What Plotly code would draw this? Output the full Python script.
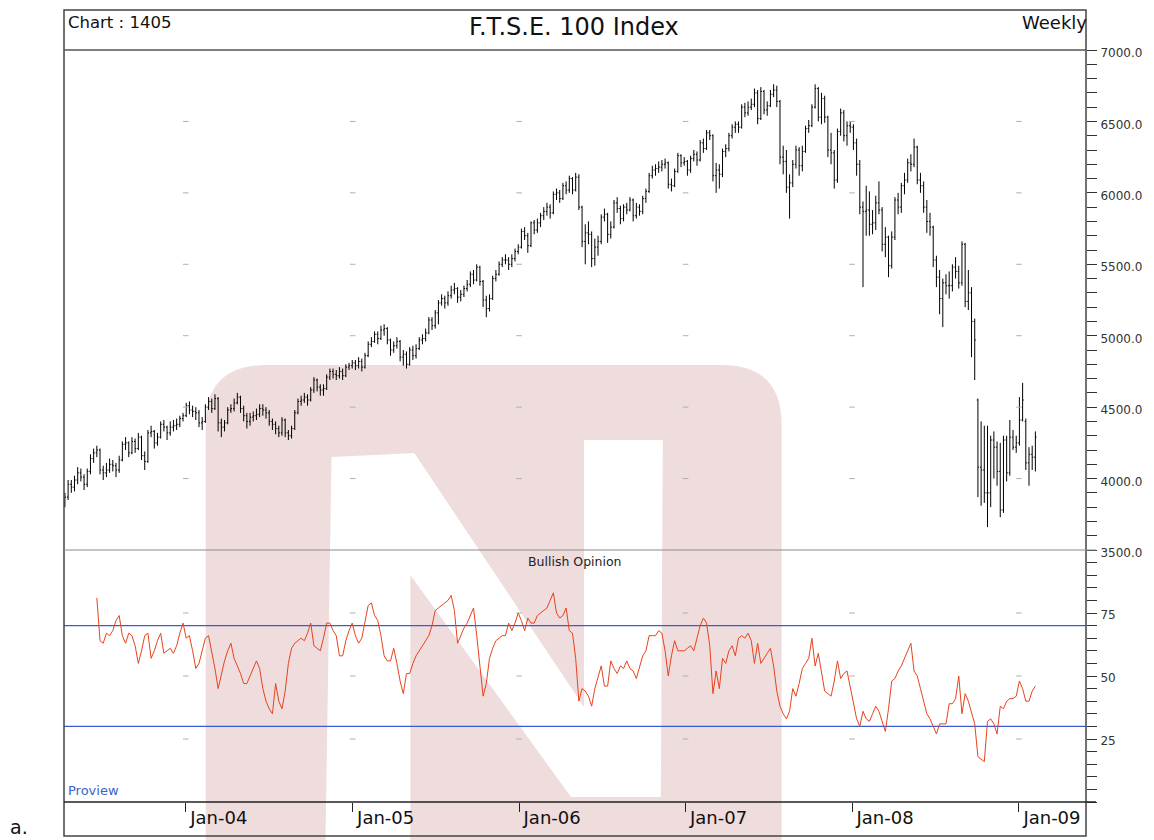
import pandas as pd
import plotly.graph_objects as go

# ---------------- data ----------------
first_week = "2003-04-11"
n_weeks = 305
dates = pd.date_range(first_week, periods=n_weeks, freq="7D")

price_open = [
    3830, 3870, 3960, 3940, 3990, 4040, 4010, 3960, 4050, 4140,
    4180, 4200, 4060, 4040, 4060, 4100, 4090, 4060, 4130, 4240,
    4250, 4180, 4260, 4210, 4290, 4160, 4120, 4320, 4330, 4250,
    4290, 4380, 4360, 4320, 4360, 4370, 4380, 4420, 4440, 4510,
    4480, 4470, 4460, 4390, 4400, 4500, 4540, 4490, 4560, 4390,
    4360, 4390, 4480, 4490, 4530, 4570, 4490, 4440, 4400, 4430,
    4440, 4450, 4490, 4480, 4460, 4400, 4380, 4350, 4320, 4410,
    4320, 4300, 4350, 4460, 4540, 4550, 4570, 4550, 4620, 4690,
    4640, 4620, 4630, 4710, 4750, 4730, 4720, 4750, 4720, 4780,
    4790, 4810, 4790, 4820, 4780, 4860, 4940, 4960, 5010, 4980,
    5040, 5050, 4970, 4900, 4930, 4960, 4850, 4870, 4800, 4900,
    4860, 4910, 4970, 4980, 5020, 5110, 5070, 5160, 5230, 5260,
    5230, 5280, 5320, 5330, 5270, 5290, 5330, 5360, 5430, 5390,
    5480, 5380, 5250, 5190, 5260, 5400, 5430, 5500, 5530, 5530,
    5500, 5540, 5590, 5620, 5730, 5700, 5630, 5790, 5740, 5790,
    5840, 5870, 5900, 5860, 5990, 6000, 5960, 6050, 6020, 6100,
    6020, 6110, 5900, 5660, 5720, 5710, 5540, 5620, 5660, 5830,
    5850, 5710, 5760, 5930, 5890, 5820, 5900, 5880, 5950, 5840,
    5900, 5870, 5960, 6010, 6120, 6160, 6170, 6180, 6200, 6210,
    6060, 6050, 6150, 6260, 6210, 6220, 6160, 6240, 6270, 6230,
    6350, 6310, 6420, 6400, 6120, 6160, 6130, 6290, 6310, 6400,
    6460, 6480, 6460, 6600, 6560, 6600, 6620, 6700, 6520, 6710,
    6580, 6610, 6690, 6720, 6640, 6250, 6220, 6040, 6070, 6200,
    6300, 6190, 6290, 6450, 6470, 6600, 6730, 6530, 6660, 6530,
    6300, 6280, 6090, 6430, 6560, 6400, 6470, 6460, 6350, 6200,
    5900, 5870, 5880, 5780, 5790, 5930, 5880, 5640, 5690, 5490,
    5690, 5950, 5900, 6050, 6090, 6210, 6200, 6320, 6090, 6050,
    5900, 5800, 5760, 5530, 5410, 5260, 5370, 5350, 5350, 5480,
    5450, 5370, 5640, 5240, 5300, 5100, 4550, 4080, 4060, 3900,
    3900, 4270, 4220, 4050, 3780, 4270, 4040, 4290, 4220, 4250,
    4410, 4400, 4110, 4170, 4150,
]

price_high = [
    3900, 3990, 3990, 4020, 4080, 4070, 4030, 4070, 4170, 4210,
    4230, 4210, 4090, 4110, 4140, 4130, 4110, 4160, 4260, 4290,
    4260, 4290, 4280, 4320, 4300, 4190, 4340, 4370, 4340, 4320,
    4400, 4410, 4370, 4400, 4410, 4420, 4440, 4460, 4530, 4540,
    4510, 4500, 4480, 4430, 4520, 4570, 4560, 4590, 4570, 4420,
    4410, 4500, 4520, 4560, 4600, 4580, 4510, 4460, 4460, 4470,
    4490, 4520, 4520, 4500, 4480, 4420, 4400, 4370, 4430, 4420,
    4340, 4370, 4480, 4560, 4580, 4600, 4590, 4640, 4710, 4700,
    4660, 4660, 4730, 4770, 4770, 4760, 4780, 4770, 4800, 4810,
    4830, 4830, 4850, 4840, 4880, 4960, 4990, 5030, 5030, 5070,
    5080, 5060, 4980, 4960, 4990, 4970, 4900, 4890, 4920, 4930,
    4940, 4990, 5010, 5050, 5130, 5130, 5180, 5250, 5290, 5280,
    5310, 5350, 5370, 5340, 5320, 5350, 5390, 5450, 5460, 5500,
    5490, 5390, 5280, 5290, 5420, 5460, 5520, 5550, 5570, 5550,
    5570, 5610, 5640, 5750, 5760, 5720, 5800, 5810, 5820, 5860,
    5900, 5930, 5920, 6010, 6030, 6020, 6070, 6080, 6120, 6110,
    6140, 6130, 5910, 5780, 5800, 5730, 5680, 5700, 5850, 5890,
    5860, 5800, 5950, 5970, 5910, 5920, 5930, 5970, 5960, 5930,
    5920, 5980, 6030, 6140, 6190, 6200, 6220, 6230, 6240, 6220,
    6100, 6170, 6280, 6270, 6250, 6230, 6260, 6300, 6290, 6370,
    6380, 6440, 6440, 6410, 6210, 6200, 6310, 6340, 6420, 6480,
    6500, 6500, 6620, 6630, 6640, 6660, 6730, 6720, 6740, 6720,
    6640, 6720, 6760, 6750, 6650, 6330, 6300, 6130, 6230, 6330,
    6320, 6330, 6470, 6510, 6620, 6760, 6740, 6700, 6680, 6540,
    6420, 6300, 6450, 6590, 6580, 6500, 6500, 6480, 6380, 6230,
    5940, 6050, 6010, 5880, 5980, 6080, 5900, 5760, 5700, 5730,
    5970, 6000, 6070, 6140, 6240, 6270, 6380, 6330, 6140, 6080,
    5950, 5860, 5770, 5560, 5460, 5400, 5430, 5450, 5500, 5550,
    5490, 5660, 5650, 5460, 5340, 5120, 4560, 4400, 4370, 4370,
    4300, 4330, 4260, 4250, 4300, 4300, 4410, 4340, 4300, 4570,
    4670, 4420, 4220, 4230, 4330,
]

price_low = [
    3800, 3850, 3900, 3910, 3960, 3980, 3920, 3940, 4030, 4110,
    4150, 4030, 3990, 4010, 4040, 4050, 4010, 4040, 4120, 4200,
    4150, 4170, 4180, 4200, 4130, 4060, 4110, 4290, 4210, 4230,
    4280, 4330, 4270, 4300, 4330, 4340, 4360, 4400, 4430, 4450,
    4430, 4410, 4360, 4340, 4390, 4480, 4460, 4480, 4330, 4290,
    4330, 4380, 4460, 4470, 4520, 4460, 4400, 4350, 4370, 4400,
    4410, 4430, 4440, 4420, 4370, 4340, 4310, 4290, 4300, 4290,
    4270, 4280, 4340, 4450, 4510, 4530, 4510, 4540, 4600, 4610,
    4580, 4580, 4620, 4690, 4700, 4690, 4700, 4690, 4710, 4760,
    4770, 4760, 4770, 4750, 4770, 4850, 4920, 4950, 4940, 4970,
    5000, 4940, 4860, 4880, 4910, 4820, 4790, 4770, 4790, 4830,
    4840, 4900, 4940, 4960, 5010, 5040, 5050, 5080, 5210, 5190,
    5210, 5260, 5290, 5230, 5240, 5270, 5310, 5340, 5360, 5380,
    5350, 5200, 5130, 5170, 5250, 5380, 5420, 5480, 5500, 5460,
    5480, 5520, 5570, 5610, 5670, 5580, 5620, 5710, 5720, 5760,
    5810, 5840, 5820, 5850, 5950, 5930, 5950, 5990, 6000, 5990,
    6010, 5880, 5620, 5500, 5640, 5480, 5490, 5560, 5640, 5800,
    5650, 5680, 5750, 5860, 5780, 5800, 5850, 5870, 5800, 5820,
    5840, 5850, 5930, 6000, 6100, 6120, 6140, 6150, 6170, 6030,
    6010, 6040, 6140, 6180, 6190, 6120, 6140, 6220, 6190, 6220,
    6280, 6300, 6370, 6080, 6000, 6030, 6110, 6250, 6290, 6380,
    6420, 6420, 6450, 6530, 6540, 6580, 6600, 6480, 6510, 6550,
    6540, 6600, 6670, 6600, 6200, 6130, 6000, 5820, 6040, 6170,
    6120, 6150, 6280, 6420, 6460, 6590, 6500, 6480, 6490, 6250,
    6200, 6030, 6070, 6400, 6360, 6330, 6420, 6300, 6120, 5850,
    5340, 5700, 5700, 5710, 5740, 5850, 5590, 5550, 5410, 5470,
    5670, 5850, 5860, 5990, 6070, 6150, 6180, 6060, 6000, 5860,
    5720, 5700, 5480, 5340, 5150, 5060, 5290, 5260, 5310, 5400,
    5330, 5350, 5200, 5180, 4850, 4690, 3870, 3810, 3830, 3660,
    3800, 4000, 3950, 3730, 3760, 3980, 4020, 4200, 4180, 4230,
    4400, 4060, 3950, 4060, 4050,
]

price_close = [
    3870, 3960, 3940, 3990, 4040, 4010, 3960, 4050, 4140, 4180,
    4200, 4060, 4040, 4060, 4100, 4090, 4060, 4130, 4240, 4250,
    4180, 4260, 4210, 4290, 4160, 4120, 4320, 4330, 4250, 4290,
    4380, 4360, 4320, 4360, 4370, 4380, 4420, 4440, 4510, 4480,
    4470, 4460, 4390, 4400, 4500, 4540, 4490, 4560, 4390, 4360,
    4390, 4480, 4490, 4530, 4570, 4490, 4440, 4400, 4430, 4440,
    4450, 4490, 4480, 4460, 4400, 4380, 4350, 4320, 4410, 4320,
    4300, 4350, 4460, 4540, 4550, 4570, 4550, 4620, 4690, 4640,
    4620, 4630, 4710, 4750, 4730, 4720, 4750, 4720, 4780, 4790,
    4810, 4790, 4820, 4780, 4860, 4940, 4960, 5010, 4980, 5040,
    5050, 4970, 4900, 4930, 4960, 4850, 4870, 4800, 4900, 4860,
    4910, 4970, 4980, 5020, 5110, 5070, 5160, 5230, 5260, 5230,
    5280, 5320, 5330, 5270, 5290, 5330, 5360, 5430, 5390, 5480,
    5380, 5250, 5190, 5260, 5400, 5430, 5500, 5530, 5530, 5500,
    5540, 5590, 5620, 5730, 5700, 5630, 5790, 5740, 5790, 5840,
    5870, 5900, 5860, 5990, 6000, 5960, 6050, 6020, 6100, 6020,
    6110, 5900, 5660, 5720, 5710, 5540, 5620, 5660, 5830, 5850,
    5710, 5760, 5930, 5890, 5820, 5900, 5880, 5950, 5840, 5900,
    5870, 5960, 6010, 6120, 6160, 6170, 6180, 6200, 6210, 6060,
    6050, 6150, 6260, 6210, 6220, 6160, 6240, 6270, 6230, 6350,
    6310, 6420, 6400, 6120, 6160, 6130, 6290, 6310, 6400, 6460,
    6480, 6460, 6600, 6560, 6600, 6620, 6700, 6520, 6710, 6580,
    6610, 6690, 6720, 6640, 6250, 6220, 6040, 6070, 6200, 6300,
    6190, 6290, 6450, 6470, 6600, 6730, 6530, 6660, 6530, 6300,
    6280, 6090, 6430, 6560, 6400, 6470, 6460, 6350, 6200, 5900,
    5870, 5880, 5780, 5790, 5930, 5880, 5640, 5690, 5490, 5690,
    5950, 5900, 6050, 6090, 6210, 6200, 6320, 6090, 6050, 5900,
    5800, 5760, 5530, 5410, 5260, 5370, 5350, 5350, 5480, 5450,
    5370, 5640, 5240, 5300, 5100, 4970, 4080, 4060, 3900, 3900,
    4270, 4220, 4050, 3780, 4270, 4040, 4290, 4220, 4250, 4410,
    4550, 4110, 4170, 4150, 4290,
]

# Bullish Opinion indicator, starting at week index 10
bullish_start = 10
bullish = [
    81, 64, 63, 67, 66, 68, 72, 74, 66, 63,
    67, 66, 62, 55, 60, 66, 67, 57, 60, 64,
    67, 59, 60, 61, 59, 62, 67, 71, 65, 66,
    60, 53, 55, 60, 65, 66, 60, 53, 45, 51,
    56, 60, 63, 57, 54, 51, 47, 47, 50, 53,
    56, 53, 45, 40, 37, 35, 47, 40, 37, 44,
    55, 61, 63, 64, 65, 64, 67, 71, 62, 61,
    60, 65, 71, 71, 68, 66, 58, 58, 64, 68,
    71, 66, 63, 65, 72, 78, 79, 74, 72, 66,
    58, 56, 56, 61, 55, 48, 43, 51, 51, 55,
    58, 60, 62, 64, 66, 70, 76, 77, 78, 79,
    80, 82, 76, 63, 66, 69, 71, 74, 77, 66,
    55, 42, 47, 57, 61, 64, 65, 66, 66, 71,
    68, 71, 75, 72, 68, 73, 71, 71, 74, 75,
    76, 77, 80, 83, 75, 73, 74, 77, 68, 67,
    57, 40, 45, 44, 42, 38, 45, 50, 54, 46,
    46, 56, 53, 51, 54, 53, 56, 53, 52, 49,
    54, 58, 60, 66, 66, 66, 68, 67, 60, 50,
    58, 64, 60, 60, 60, 61, 62, 60, 65, 70,
    73, 71, 62, 43, 52, 45, 57, 55, 60, 62,
    58, 65, 66, 65, 67, 64, 55, 63, 55, 57,
    59, 61, 54, 44, 38, 35, 33, 36, 45, 42,
    47, 53, 55, 57, 65, 54, 59, 52, 44, 43,
    42, 48, 56, 49, 51, 52, 46, 40, 33, 30,
    36, 33, 32, 35, 38, 36, 32, 28, 37, 48,
    49, 52, 54, 57, 60, 63, 52, 50, 45, 40,
    35, 33, 30, 27, 31, 31, 31, 39, 39, 41,
    50, 35, 43, 40, 35, 31, 18, 17, 16, 32,
    33, 31, 27, 38, 37, 40, 41, 41, 42, 48,
    45, 40, 40, 44, 46,
]
bullish_levels = [70, 30]

year_ticks = ["2004-01-01", "2005-01-01", "2006-01-01", "2007-01-01", "2008-01-01", "2009-01-01"]
year_labels = ["Jan-04", "Jan-05", "Jan-06", "Jan-07", "Jan-08", "Jan-09"]
price_ticks = [3500, 4000, 4500, 5000, 5500, 6000, 6500, 7000]
price_grid = [4000, 4500, 5000, 5500, 6000, 6500]
bullish_ticks = [25, 50, 75]
x_range = ["2003-04-09", "2009-05-28"]

# ---------------- layout helpers (reference pixel -> paper) ----------------
W, H = 1154, 840
PL, PR = 64, 1088
PT, PB = 50, 802


def px(x):
    return (x - PL) / (PR - PL)


def py(y):
    return (PB - y) / (PB - PT)


split = py(550)

fig = go.Figure()

# grid dots (tiny marks at intersections)
gx, gy = [], []
for d in year_ticks:
    for v in price_grid:
        gx.append(d)
        gy.append(v)
fig.add_trace(go.Scatter(x=gx, y=gy, mode="markers", yaxis="y",
                         marker=dict(symbol="line-ew", size=4, line=dict(width=1, color="#b0b0b0")),
                         hoverinfo="skip", showlegend=False))
gx2, gy2 = [], []
for d in year_ticks:
    for v in bullish_ticks:
        gx2.append(d)
        gy2.append(v)
fig.add_trace(go.Scatter(x=gx2, y=gy2, mode="markers", yaxis="y2",
                         marker=dict(symbol="line-ew", size=4, line=dict(width=1, color="#b0b0b0")),
                         hoverinfo="skip", showlegend=False))

fig.add_trace(go.Ohlc(x=dates, open=price_open, high=price_high, low=price_low, close=price_close,
                      yaxis="y", tickwidth=0.35,
                      increasing=dict(line=dict(color="black", width=1)),
                      decreasing=dict(line=dict(color="black", width=1)),
                      showlegend=False, name="FTSE 100"))

for lvl in bullish_levels:
    fig.add_trace(go.Scatter(x=[x_range[0], x_range[1]], y=[lvl, lvl], mode="lines", yaxis="y2",
                             line=dict(color="#3b5bd6", width=1.3), hoverinfo="skip", showlegend=False))

fig.add_trace(go.Scatter(x=dates[bullish_start:], y=bullish, mode="lines", yaxis="y2",
                         line=dict(color="#e8431e", width=1), showlegend=False, name="Bullish Opinion"))

font = "DejaVu Sans, Liberation Sans, sans-serif"

fig.update_layout(
    width=W, height=H, autosize=False,
    margin=dict(l=PL, r=W - PR, t=PT, b=H - PB, pad=0),
    paper_bgcolor="white", plot_bgcolor="rgba(0,0,0,0)",
    font=dict(family=font, color="#222"),
    xaxis=dict(range=x_range, type="date", anchor="y2", rangeslider=dict(visible=False),
               showgrid=False, zeroline=False, showline=False,
               tickvals=year_ticks, ticktext=year_labels, ticks="outside", ticklen=9,
               tickcolor="#222", tickwidth=1, ticklabelshift=33, ticklabelstandoff=-10,
               tickfont=dict(size=18, color="#111", family=font)),
    yaxis=dict(domain=[split, 1], range=[3500, 7000], side="right", showgrid=False, zeroline=False,
               showline=False, tickvals=price_ticks, tickformat=".1f", ticks="outside", ticklen=10,
               tickcolor="#333", tickwidth=1, ticklabelshift=3, ticklabelstandoff=1,
               tickfont=dict(size=12, color="#333"),
               minor=dict(dtick=100, ticks="outside", ticklen=10, tickcolor="#333", tickwidth=1)),
    yaxis2=dict(domain=[0, split], range=[0, 100], side="right", showgrid=False, zeroline=False,
                showline=False, tickvals=bullish_ticks, ticks="outside", ticklen=10,
                tickcolor="#333", tickwidth=1, ticklabelshift=2, ticklabelstandoff=1,
                tickfont=dict(size=12, color="#333"),
                minor=dict(dtick=5, ticks="outside", ticklen=10, tickcolor="#333", tickwidth=1)),
)

# ---------------- watermark (decorative logo) ----------------
pink = "#efdcdc"
x0, x1, y0, y1, r = 206, 783, 365, 840, 60
rr = (f"M {px(x0)},{py(y0 + r)} Q {px(x0)},{py(y0)} {px(x0 + r)},{py(y0)} "
      f"L {px(x1 - r)},{py(y0)} Q {px(x1)},{py(y0)} {px(x1)},{py(y0 + r)} "
      f"L {px(x1)},{py(y1)} L {px(x0)},{py(y1)} Z")
fig.add_shape(type="path", path=rr, xref="paper", yref="paper", fillcolor=pink,
              line=dict(width=0), layer="below")
n_pts = [(332, 457), (415, 453), (585, 707), (585, 440), (664, 440), (662, 797),
         (572, 797), (411, 575), (411, 840), (326, 840)]
npath = "M " + " L ".join(f"{px(a)},{py(b)}" for a, b in n_pts) + " Z"
fig.add_shape(type="path", path=npath, xref="paper", yref="paper", fillcolor="white",
              line=dict(width=0), layer="below")

# ---------------- frame lines ----------------
frame = dict(xref="paper", yref="paper", layer="above")
fig.add_shape(type="rect", x0=0, x1=1, y0=py(836), y1=py(10), line=dict(color="#444", width=1.5), **frame)
fig.add_shape(type="line", x0=0, x1=1, y0=1, y1=1, line=dict(color="#555", width=1.5), **frame)
fig.add_shape(type="line", x0=0, x1=px(1098), y0=split, y1=split, line=dict(color="#8a8a8a", width=1), **frame)
fig.add_shape(type="line", x0=0, x1=px(1098), y0=0, y1=0, line=dict(color="#222", width=1.5), **frame)

# ---------------- texts ----------------
ann = dict(xref="paper", yref="paper", showarrow=False)
fig.add_annotation(x=px(66), y=py(22), text="Chart : 1405", xanchor="left", yanchor="middle",
                   font=dict(size=16.5, color="#111"), **ann)
fig.add_annotation(x=px(575), y=py(27), text="F.T.S.E. 100 Index", xanchor="center", yanchor="middle",
                   font=dict(size=24, color="#111"), **ann)
fig.add_annotation(x=px(1091), y=py(22), text="Weekly", xanchor="right", yanchor="middle",
                   font=dict(size=18, color="#111"), **ann)
fig.add_annotation(x=px(576), y=py(561), text="Bullish Opinion", xanchor="center", yanchor="middle",
                   font=dict(size=12.5, color="#222"), **ann)
fig.add_annotation(x=px(66), y=py(790), text="Proview", xanchor="left", yanchor="middle",
                   font=dict(size=13, color="#3a5fd0"), **ann)
fig.add_annotation(x=px(8), y=py(827), text="a.", xanchor="left", yanchor="middle",
                   font=dict(size=19, color="#111"), **ann)

fig.write_html(
    "out.html",
    config={"responsive": False, "displayModeBar": False},
    post_script="document.body.style.margin='0';",
)
